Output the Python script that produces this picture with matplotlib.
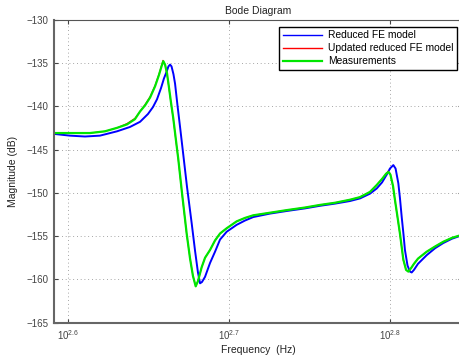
import matplotlib
matplotlib.use("Agg")
import matplotlib.pyplot as plt
from matplotlib.ticker import FixedLocator, NullLocator

plt.rcParams['font.family'] = ['Liberation Sans', 'DejaVu Sans']
plt.rcParams['mathtext.fontset'] = 'custom'
plt.rcParams['mathtext.rm'] = 'Liberation Sans'
plt.rcParams['mathtext.it'] = 'Liberation Sans:italic'

# ---- data: frequency read as exponent of 10 (Hz), magnitude in dB ----
exp_reduced = [2.5915, 2.6014, 2.6107, 2.6200, 2.6306, 2.6386, 2.6449, 2.6498, 2.6529,
               2.6554, 2.6579, 2.6597, 2.6614, 2.6625, 2.6635, 2.6644, 2.6656, 2.6666,
               2.6681, 2.6697, 2.6717, 2.6740, 2.6769, 2.6790, 2.6808, 2.6821, 2.6833,
               2.6852, 2.6883, 2.6914, 2.6945, 2.6986, 2.7048, 2.7100, 2.7151, 2.7255,
               2.7359, 2.7472, 2.7565, 2.7658, 2.7751, 2.7813, 2.7875, 2.7917, 2.7950,
               2.7979, 2.7999, 2.8020, 2.8034, 2.8051, 2.8061, 2.8072, 2.8083, 2.8092,
               2.8108, 2.8123, 2.8134, 2.8148, 2.8173, 2.8227, 2.8279, 2.8330, 2.8384,
               2.8446]
mag_reduced = [-143.2, -143.4, -143.5, -143.4, -142.9, -142.4, -141.8, -140.9, -140.1,
               -139.2, -137.9, -136.8, -136.0, -135.4, -135.2, -135.4, -136.3, -137.4,
               -139.9, -142.4, -145.6, -149.3, -153.5, -156.7, -159.2, -160.45, -160.3,
               -159.7, -158.1, -156.8, -155.4, -154.5, -153.7, -153.2, -152.8, -152.4,
               -152.1, -151.8, -151.5, -151.25, -150.95, -150.65, -150.1, -149.5, -148.8,
               -147.9, -147.2, -146.8, -147.2, -148.9, -150.6, -152.8, -154.8, -156.6,
               -158.4, -159.1, -159.2, -158.9, -158.2, -157.2, -156.4, -155.8, -155.3,
               -154.9]

exp_updated = [2.5915, 2.6014, 2.6138, 2.6231, 2.6306, 2.6368, 2.6417, 2.6449, 2.6480,
               2.6511, 2.6542, 2.6566, 2.6582, 2.6591, 2.6604, 2.6616, 2.6628, 2.6641,
               2.6655, 2.6672, 2.6686, 2.6709, 2.6738, 2.6759, 2.6777, 2.6794, 2.6808,
               2.6831, 2.6852, 2.6883, 2.6914, 2.6945, 2.6986, 2.7048, 2.7100, 2.7151,
               2.7255, 2.7359, 2.7472, 2.7565, 2.7658, 2.7751, 2.7813, 2.7875, 2.7917,
               2.7950, 2.7975, 2.7989, 2.8002, 2.8018, 2.8030, 2.8046, 2.8061, 2.8082,
               2.8099, 2.8113, 2.8130, 2.8148, 2.8173, 2.8227, 2.8279, 2.8330, 2.8384,
               2.8446]
mag_updated = [-143.1, -143.1, -143.1, -142.9, -142.5, -142.0, -141.4, -140.6, -139.8,
               -138.9, -137.6, -136.3, -135.3, -134.7, -135.2, -136.3, -137.9, -139.7,
               -141.5, -144.1, -146.2, -150.1, -154.8, -157.6, -159.6, -160.8, -160.2,
               -158.6, -157.5, -156.6, -155.5, -154.7, -154.1, -153.3, -152.9, -152.6,
               -152.3, -152.0, -151.7, -151.4, -151.15, -150.8, -150.5, -149.9, -149.1,
               -148.4, -147.8, -147.5, -147.9, -149.3, -150.9, -152.9, -154.8, -157.8,
               -158.9, -159.1, -158.7, -158.2, -157.6, -156.8, -156.2, -155.65, -155.2,
               -154.85]

exp_meas = [2.5915, 2.6014, 2.6138, 2.6231, 2.6306, 2.6368, 2.6417, 2.6449, 2.6480,
            2.6511, 2.6542, 2.6566, 2.6582, 2.6593, 2.6604, 2.6616, 2.6628, 2.6641,
            2.6655, 2.6672, 2.6686, 2.6709, 2.6738, 2.6759, 2.6777, 2.6794, 2.6808,
            2.6831, 2.6852, 2.6883, 2.6914, 2.6945, 2.6986, 2.7048, 2.7100, 2.7151,
            2.7255, 2.7359, 2.7472, 2.7565, 2.7658, 2.7751, 2.7813, 2.7875, 2.7917,
            2.7950, 2.7975, 2.7989, 2.8002, 2.8018, 2.8030, 2.8046, 2.8061, 2.8082,
            2.8099, 2.8113, 2.8130, 2.8148, 2.8173, 2.8227, 2.8279, 2.8330, 2.8384,
            2.8446]
mag_meas = [-143.1, -143.1, -143.1, -142.9, -142.5, -142.1, -141.5, -140.6, -139.9,
            -139.0, -137.7, -136.4, -135.4, -134.8, -135.2, -136.2, -137.8, -139.6,
            -141.4, -144.0, -146.1, -150.0, -154.7, -157.6, -159.6, -160.8, -160.2,
            -158.6, -157.5, -156.6, -155.5, -154.7, -154.1, -153.3, -152.9, -152.6,
            -152.3, -152.0, -151.7, -151.4, -151.15, -150.8, -150.5, -149.9, -149.1,
            -148.4, -147.8, -147.6, -147.9, -149.2, -150.8, -152.8, -154.7, -157.7,
            -158.9, -159.1, -158.7, -158.2, -157.6, -156.8, -156.2, -155.65, -155.2,
            -154.85]

xtick_exps = [2.6, 2.7, 2.8]
xtick_labels = [r'$\mathregular{10^{2.6}}$', r'$\mathregular{10^{2.7}}$', r'$\mathregular{10^{2.8}}$']
ytick_vals = [-165, -160, -155, -150, -145, -140, -135, -130]

freq_reduced = [10 ** e for e in exp_reduced]
freq_updated = [10 ** e for e in exp_updated]
freq_meas = [10 ** e for e in exp_meas]

# ---- figure ----
fig = plt.figure(figsize=(4.6, 3.6), dpi=100)
ax = fig.add_axes([54/460, (360-322.7)/360, (462-54)/460, (322.7-19.6)/360])

ax.plot(freq_reduced, mag_reduced, color='#0000ff', lw=1.4, label='Reduced FE model')
ax.plot(freq_updated, mag_updated, color='#ff0000', lw=0.8, label='Updated reduced FE model')
ax.plot(freq_meas, mag_meas, color='#00e600', lw=1.6, label='Measurements')

ax.set_xscale('log')
ax.set_xlim(10**2.5915, 10**2.8446)
ax.set_ylim(-165, -130)
ax.xaxis.set_major_locator(FixedLocator([10 ** e for e in xtick_exps]))
ax.xaxis.set_minor_locator(NullLocator())
ax.set_xticklabels(xtick_labels)
ax.set_yticks(ytick_vals)
ax.set_yticklabels([str(v).replace('-', '\u2212') for v in ytick_vals])

ax.grid(True, which='major', color='#888888', lw=0.6, linestyle=(0, (1, 3.5)))
ax.tick_params(direction='in', length=3, width=0.8, colors='#444444',
               labelsize=7, pad=4, top=True, right=True)
for side in ['left', 'bottom']:
    ax.spines[side].set_color('#666666')
    ax.spines[side].set_linewidth(1.5)
for side in ['top', 'right']:
    ax.spines[side].set_color('#555555')
    ax.spines[side].set_linewidth(0.8)

ax.set_xlabel('Frequency  (Hz)', fontsize=7.5, color='#222222', labelpad=2)
ax.set_ylabel('Magnitude (dB)', fontsize=7.5, color='#222222', labelpad=6)
ax.set_title('Bode Diagram', fontsize=7.5, color='#222222', pad=4)

leg = ax.legend(loc='upper right', bbox_to_anchor=(457/460, 1-26.7/360),
                bbox_transform=fig.transFigure, fontsize=7.4, frameon=True,
                fancybox=False, framealpha=1, edgecolor='black', borderaxespad=0,
                handlelength=3.8, labelspacing=0.3, handletextpad=0.6,
                borderpad=0.35)
leg.get_frame().set_linewidth(1.0)
for line in leg.get_lines():
    line.set_linewidth(1.0)
leg.get_lines()[2].set_linewidth(1.6)

fig.savefig('out.png', dpi=100)
